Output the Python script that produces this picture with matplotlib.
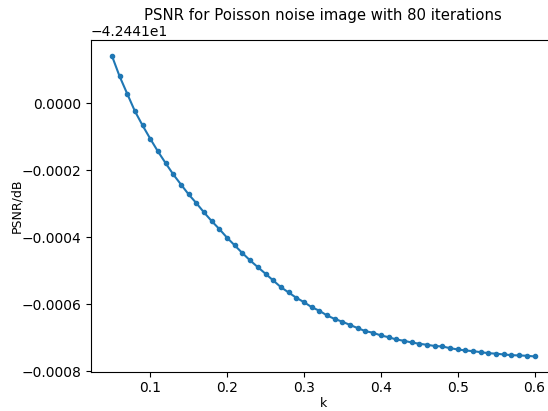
import numpy as np
import matplotlib
matplotlib.use('Agg')
import matplotlib.pyplot as plt

# k values
k = [0.05, 0.06, 0.07, 0.08, 0.09, 0.10, 0.11, 0.12, 0.13, 0.14,
     0.15, 0.16, 0.17, 0.18, 0.19, 0.20, 0.21, 0.22, 0.23, 0.24,
     0.25, 0.26, 0.27, 0.28, 0.29, 0.30, 0.31, 0.32, 0.33, 0.34,
     0.35, 0.36, 0.37, 0.38, 0.39, 0.40, 0.41, 0.42, 0.43, 0.44,
     0.45, 0.46, 0.47, 0.48, 0.49, 0.50, 0.51, 0.52, 0.53, 0.54,
     0.55, 0.56, 0.57, 0.58, 0.59, 0.60]

# PSNR relative to -42.441 dB
psnr_delta = [0.0001430, 0.0000815, 0.0000290, -0.0000230, -0.0000657,
              -0.0001054, -0.0001433, -0.0001782, -0.0002120, -0.0002420,
              -0.0002716, -0.0002976, -0.0003254, -0.0003513, -0.0003752,
              -0.0004009, -0.0004239, -0.0004469, -0.0004687, -0.0004887,
              -0.0005084, -0.0005284, -0.0005484, -0.0005642, -0.0005800,
              -0.0005931, -0.0006080, -0.0006188, -0.0006328, -0.0006433,
              -0.0006516, -0.0006612, -0.0006707, -0.0006797, -0.0006845,
              -0.0006925, -0.0006976, -0.0007045, -0.0007084, -0.0007134,
              -0.0007173, -0.0007203, -0.0007239, -0.0007254, -0.0007304,
              -0.0007343, -0.0007373, -0.0007394, -0.0007424, -0.0007454,
              -0.0007469, -0.0007493, -0.0007513, -0.0007522, -0.0007531,
              -0.0007552]

psnr = -42.441 + np.array(psnr_delta)

fig = plt.figure(figsize=(5.48, 4.11), dpi=100)
ax = fig.add_axes([0.1655, 0.0961, 0.8485, 0.8054])

ax.plot(k, psnr, marker='.')

ax.set_xlabel('k', fontsize=9)
ax.set_ylabel('PSNR/dB', fontsize=9)
ax.xaxis.set_label_coords(0.5, -0.077)
ax.yaxis.set_label_coords(-0.146, 0.5)
ax.set_title('PSNR for Poisson noise image with 80 iterations',
             fontsize=10.7, y=1.063, pad=0)

fig.savefig('out.png', dpi=100)
